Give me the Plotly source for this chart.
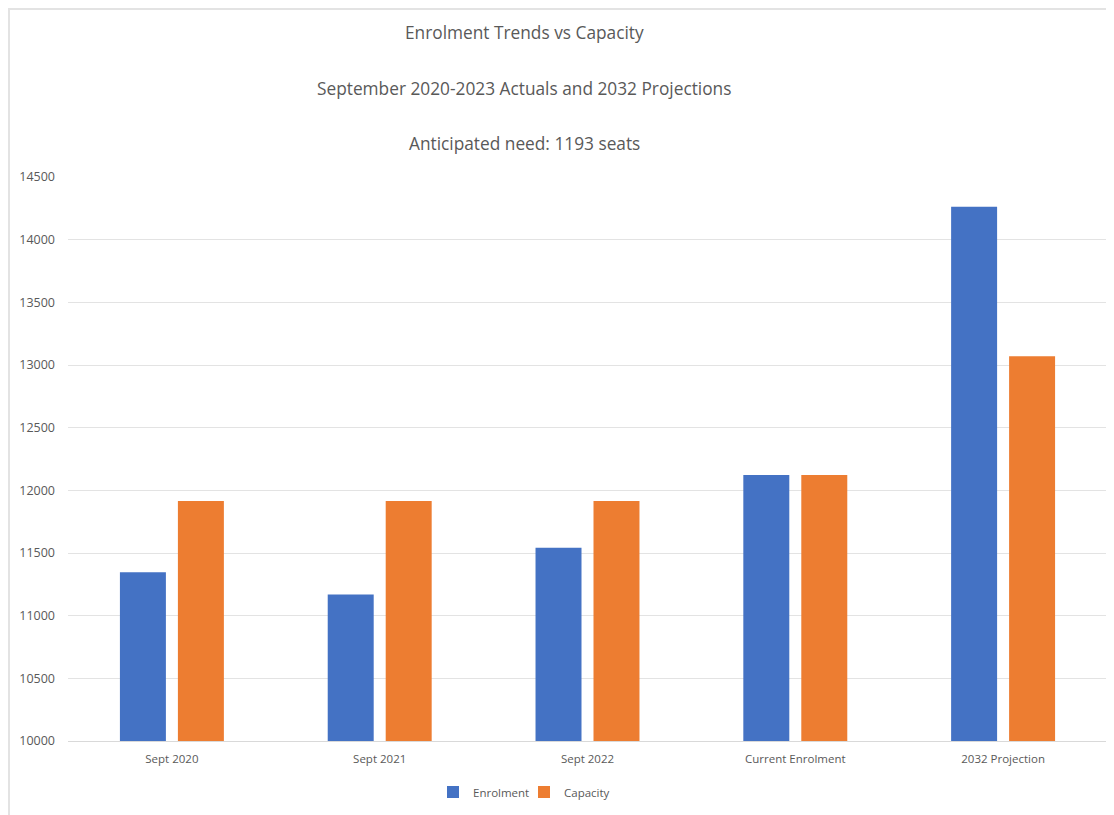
import plotly.graph_objects as go

categories = ["Sept 2020", "Sept 2021", "Sept 2022", "Current Enrolment", "2032 Projection"]
enrolment = [11346, 11168, 11542, 12122, 14262]
capacity = [11914, 11914, 11914, 12122, 13069]
y_ticks = [10000, 10500, 11000, 11500, 12000, 12500, 13000, 13500, 14000, 14500]
title_lines = ["Enrolment Trends vs Capacity",
               "September 2020-2023 Actuals and 2032 Projections",
               "Anticipated need: 1193 seats"]

BLUE = "#4472C4"
ORANGE = "#ED7D31"
TXT = "#595959"
FONT = "Open Sans"

OFF = 8  # page offset of the figure in the browser
W, H = 1114 - OFF, 815 - OFF
ML, MR, MT, MB = 68 - OFF, 7, 177 - OFF, 74
PW, PH = W - ML - MR, H - MT - MB

def sx(px):  # screen px -> paper x
    return (px - OFF - ML) / PW

def sy(py):  # screen px -> paper y
    return (H - MB - (py - OFF)) / PH

fig = go.Figure()
fig.add_trace(go.Bar(name="Enrolment", x=categories, y=enrolment,
                     marker=dict(color=BLUE, line_width=0), legend="legend"))
fig.add_trace(go.Bar(name="Capacity", x=categories, y=capacity,
                     marker=dict(color=ORANGE, line_width=0), legend="legend2"))

annotations = []
for t, py in zip(title_lines, [32, 88, 143]):
    annotations.append(dict(text=t, x=sx(524), xref="paper", y=sy(py), yref="paper",
                            xanchor="center", yanchor="middle", showarrow=False,
                            font=dict(family=FONT, size=17.3, color=TXT)))

leg_common = dict(orientation="h", xanchor="left", y=sy(792), yanchor="middle",
                  font=dict(family=FONT, size=11.5, color=TXT), itemwidth=30,
                  bgcolor="rgba(0,0,0,0)")

fig.update_layout(
    width=W, height=H,
    margin=dict(l=ML, r=MR, t=MT, b=MB),
    paper_bgcolor="white", plot_bgcolor="white",
    barmode="group", bargap=0.442, bargroupgap=0.207,
    font=dict(family=FONT, color=TXT, size=12),
    annotations=annotations,
    showlegend=True,
    legend=dict(x=sx(433), **leg_common),
    legend2=dict(x=sx(524), **leg_common),
    shapes=[
        dict(type="line", xref="paper", yref="paper",
             x0=sx(OFF), x1=sx(1114), y0=sy(OFF + 1), y1=sy(OFF + 1),
             line=dict(color="#e3e3e3", width=2)),
        dict(type="line", xref="paper", yref="paper",
             x0=sx(OFF + 1), x1=sx(OFF + 1), y0=sy(OFF), y1=sy(815),
             line=dict(color="#e3e3e3", width=2)),
    ],
)
fig.update_xaxes(showgrid=False, showline=True, linecolor="#d9d9d9", linewidth=1,
                 ticks="", tickfont=dict(family=FONT, size=11.5, color=TXT), ticklabelstandoff=7)
fig.update_yaxes(range=[10000, 14500], tickvals=y_ticks, showgrid=True, gridcolor="#e3e3e3",
                 gridwidth=1, zeroline=False, showline=False, ticks="",
                 tickfont=dict(family=FONT, size=12.5, color=TXT), ticklabelstandoff=12,
                 tickformat="d")

fig.write_html("out.html")
